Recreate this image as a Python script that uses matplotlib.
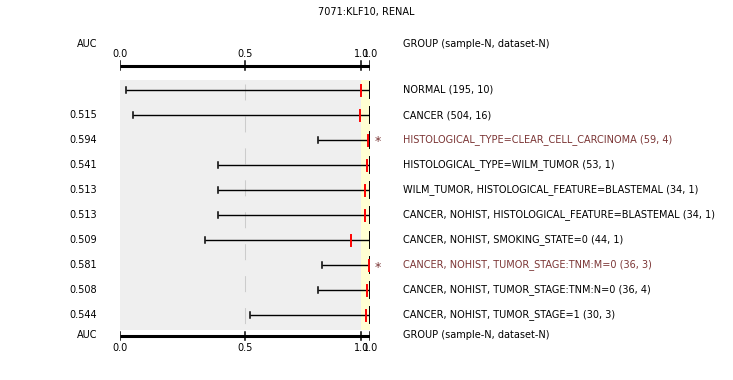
import matplotlib
matplotlib.use("Agg")
import matplotlib.pyplot as plt
from matplotlib.patches import Rectangle

plt.rcParams['font.family'] = ['DejaVu Sans']
plt.rcParams['lines.scale_dashes'] = False

title = "7071:KLF10, RENAL"
groups = [
    "NORMAL (195, 10)",
    "CANCER (504, 16)",
    "HISTOLOGICAL_TYPE=CLEAR_CELL_CARCINOMA (59, 4)",
    "HISTOLOGICAL_TYPE=WILM_TUMOR (53, 1)",
    "WILM_TUMOR, HISTOLOGICAL_FEATURE=BLASTEMAL (34, 1)",
    "CANCER, NOHIST, HISTOLOGICAL_FEATURE=BLASTEMAL (34, 1)",
    "CANCER, NOHIST, SMOKING_STATE=0 (44, 1)",
    "CANCER, NOHIST, TUMOR_STAGE:TNM:M=0 (36, 3)",
    "CANCER, NOHIST, TUMOR_STAGE:TNM:N=0 (36, 4)",
    "CANCER, NOHIST, TUMOR_STAGE=1 (30, 3)",
]
auc_text = ["", "0.515", "0.594", "0.541", "0.513", "0.513", "0.509", "0.581", "0.508", "0.544"]
lower = [0.024, 0.052, 0.792, 0.392, 0.392, 0.392, 0.337, 0.808, 0.792, 0.520]
upper = [1.0] * 10
marks = [0.964, 0.960, 0.992, 0.988, 0.980, 0.980, 0.924, 0.996, 0.988, 0.984]
significant = [False, False, True, False, False, False, False, True, False, False]
axis_ticks = [0.0, 0.5, 0.964, 1.0]
threshold = 0.964

hl_color = '#7b3535'
fs = 7

fig = plt.figure(figsize=(7.33, 3.8), dpi=100)
# plot area: x 0..1 over 250 px, rows spaced 25 px
ax = fig.add_axes([120.3 / 733, 25 / 380, 250 / 733, 305 / 380])
ax.set_xlim(0, 1)
ax.set_ylim(10.6, -1.6)
ax.axis('off')

n = len(groups)
ax.add_patch(Rectangle((0, -0.4), threshold, n, facecolor='#efefef', edgecolor='none', zorder=0))
ax.add_patch(Rectangle((threshold, -0.4), 1.0 - threshold + 0.003, n,
                       facecolor='#ffffd2', edgecolor='none', zorder=0))

# dashed reference at 0.5
ax.plot([0.5, 0.5], [-0.24, n - 0.4], color='#cccccc', lw=0.75, dashes=(11.5, 11.5), zorder=1)

for i in range(n):
    ax.plot([lower[i], upper[i]], [i, i], color='black', lw=1.0, zorder=2, solid_capstyle='butt')
    ax.plot([lower[i], lower[i]], [i - 0.13, i + 0.13], color='black', lw=1.1, zorder=2)
    ax.plot([upper[i], upper[i]], [i - 0.32, i + 0.32], color='black', lw=1.4, zorder=2)
    ax.plot([marks[i], marks[i]], [i - 0.22, i + 0.22], color='red', lw=1.4, zorder=3)
    c = hl_color if significant[i] else 'black'
    ax.text(1.131, i, groups[i], color=c, fontsize=fs, va='center', ha='left', clip_on=False)
    if significant[i]:
        ax.text(1.028, i + 0.08, '*', color=hl_color, fontsize=9, va='center', ha='center', clip_on=False)
    ax.text(-0.093, i, auc_text[i], fontsize=fs, va='center', ha='right', clip_on=False)

# top and bottom axes
for y_axis, y_lab, va in [(-0.972, -1.44, 'center'), (9.83, 10.32, 'center')]:
    ax.plot([0, 1], [y_axis, y_axis], color='black', lw=2.2, zorder=2, solid_capstyle='butt')
    for t in axis_ticks:
        ax.plot([t, t], [y_axis - 0.17, y_axis + 0.17], color='black', lw=1.1, zorder=2)
        ax.text(t, y_lab, f"{t:.1f}", fontsize=fs, ha='center', va=va, clip_on=False)

ax.text(-0.093, -1.84, "AUC", fontsize=fs, ha='right', va='center', clip_on=False)
ax.text(-0.093, 9.8, "AUC", fontsize=fs, ha='right', va='center', clip_on=False)
ax.text(1.131, -1.84, "GROUP (sample-N, dataset-N)", fontsize=fs, ha='left', va='center', clip_on=False)
ax.text(1.131, 9.8, "GROUP (sample-N, dataset-N)", fontsize=fs, ha='left', va='center', clip_on=False)

fig.text(366 / 733, 1 - 12 / 380, title, fontsize=fs, ha='center', va='center')

fig.savefig('out.png', dpi=100, facecolor='white')
